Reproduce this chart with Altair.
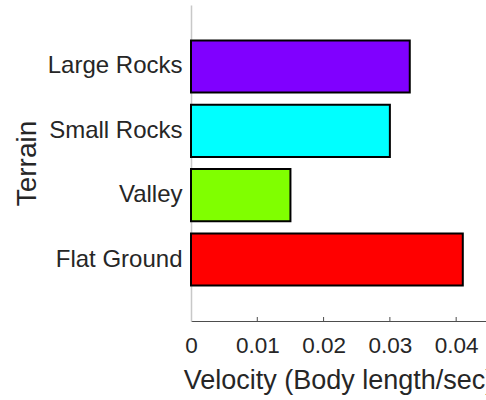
import altair as alt
import pandas as pd

# Mean locomotion speed on each terrain type
terrains = ["Large Rocks", "Small Rocks", "Valley", "Flat Ground"]
velocity = [0.033, 0.030, 0.015, 0.041]
colors = ["#8000ff", "#00ffff", "#80ff00", "#ff0000"]
tick_values = [0.0, 0.01, 0.02, 0.03, 0.04]

df = pd.DataFrame({"terrain": terrains, "velocity": velocity, "color": colors})
ticks_df = pd.DataFrame({"t": tick_values[1:]})

W, H = 295, 316
FONT = "Liberation Sans"

x_scale = alt.Scale(domain=[0, 0.0445], nice=False, zero=True)

bars = alt.Chart(df).mark_bar(stroke="black", strokeWidth=2).encode(
    x=alt.X(
        "velocity:Q",
        scale=x_scale,
        axis=alt.Axis(
            values=tick_values,
            format="~g",
            grid=False,
            ticks=False,
            domainColor="#4d4d4d",
            domainWidth=1.2,
            labelFont=FONT,
            labelFontSize=22.5,
            labelColor="#262626",
            labelPadding=13,
            labelFlush=False,
            title="Velocity (Body length/sec)",
            titleFont=FONT,
            titleFontSize=27,
            titleFontWeight="normal",
            titleColor="#262626",
            titleBaseline="alphabetic",
            titleY=67,
        ),
    ),
    y=alt.Y(
        "terrain:N",
        sort=terrains,
        scale=alt.Scale(paddingInner=0.19, paddingOuter=0.55),
        axis=alt.Axis(
            ticks=False,
            grid=False,
            domainColor="#c8c8c8",
            domainWidth=1.5,
            labelFont=FONT,
            labelFontSize=24,
            labelColor="#262626",
            labelPadding=9,
            title="Terrain",
            titleFont=FONT,
            titleFontSize=28,
            titleFontWeight="normal",
            titleColor="#262626",
            titleBaseline="alphabetic",
            titleAlign="center",
            titleAngle=270,
            titleX=-156,
            titleY=158,
        ),
    ),
    color=alt.Color("color:N", scale=None, legend=None),
)

# Short inward tick marks along the x axis
inner_ticks = alt.Chart(ticks_df).mark_rule(color="#4d4d4d", strokeWidth=1).encode(
    x=alt.X("t:Q", scale=x_scale),
    y=alt.value(H - 4),
    y2=alt.value(H),
)

chart = (
    alt.layer(bars, inner_ticks)
    .properties(
        width=W,
        height=H,
        autosize=alt.AutoSizeParams(type="none"),
        padding={"left": 191, "top": 5, "right": 0, "bottom": 79},
        background="white",
    )
    .configure_view(stroke=None)
)

chart.save("out.html", embed_options={"renderer": "svg", "actions": False})
